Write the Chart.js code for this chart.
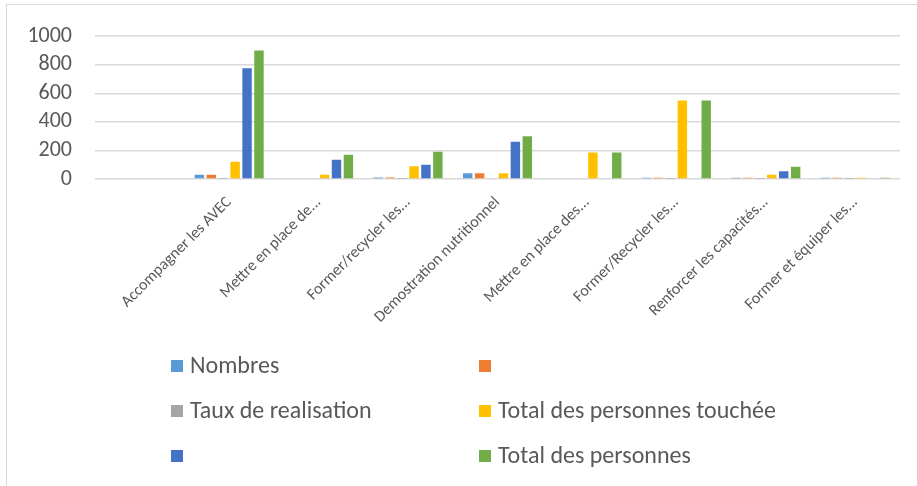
<!DOCTYPE html>
<html>
<head>
<meta charset="utf-8">
<script src="https://cdn.jsdelivr.net/npm/chart.js@4"></script>
<style>
    body { margin: 0; background: #fff; }
    #wrap { position: relative; width: 917px; height: 486px; overflow: hidden; }
    #frame { position: absolute; left: 6px; top: 4px; width: 940px; height: 520px;
             border-left: 1px solid #d9d9d9; border-top: 1px solid #d9d9d9; }
    canvas { position: absolute; left: 0; top: 0; }
</style>
</head>
<body>
<div id="wrap">
    <div id="frame"></div>
    <canvas id="barChart" width="917" height="486"></canvas>
</div>
<script>
// Categories (first one is an empty row in the source sheet)
const categories = [
    '',
    'Accompagner les AVEC',
    'Mettre en place de...',
    'Former/recycler les...',
    'Demostration nutritionnel',
    'Mettre en place des...',
    'Former/Recycler les...',
    'Renforcer les capacités...',
    'Former et équiper les...'
];

// Series values
const nombres          = [null, 30, 0, 10, 40, 0, 8, 8, 8];
const serieSansNom1    = [null, 30, 0, 10, 40, 0, 8, 8, 8];
const tauxRealisation  = [null, 1, 0, 1, 0, 0, 1, 1, 1];
const totalTouchee     = [null, 120, 30, 90, 40, 185, 550, 30, 8];
const serieSansNom2    = [null, 775, 135, 100, 260, 0, 0, 55, 0];
const totalPersonnes   = [null, 900, 170, 190, 300, 185, 550, 85, 8];

const yTicks = [0, 200, 400, 600, 800, 1000];

const TEXT = '#595959';
const FONT = 'Carlito, Lato, sans-serif';

// Legend drawn as a two-column grid, like the Excel one
const gridLegend = {
    id: 'gridLegend',
    afterDraw(chart) {
        const ctx = chart.ctx;
        const cols = [171, 479];
        const rows = [366, 411, 456];
        ctx.save();
        ctx.font = '24px ' + FONT;
        ctx.textBaseline = 'middle';
        chart.data.datasets.forEach((ds, i) => {
            const x = cols[i % 2];
            const y = rows[Math.floor(i / 2)];
            ctx.fillStyle = ds.backgroundColor;
            ctx.fillRect(x, y - 6, 12, 12);
            ctx.fillStyle = TEXT;
            ctx.fillText(ds.label, x + 19, y + 1);
        });
        ctx.restore();
    }
};

const ctx = document.getElementById('barChart').getContext('2d');
new Chart(ctx, {
    type: 'bar',
    data: {
        labels: categories,
        datasets: [
            { label: 'Nombres', data: nombres, backgroundColor: '#5B9BD5' },
            { label: '', data: serieSansNom1, backgroundColor: '#ED7D31' },
            { label: 'Taux de realisation', data: tauxRealisation, backgroundColor: '#A5A5A5' },
            { label: 'Total des personnes touchée', data: totalTouchee, backgroundColor: '#FFC000' },
            { label: '', data: serieSansNom2, backgroundColor: '#4472C4' },
            { label: 'Total des personnes', data: totalPersonnes, backgroundColor: '#70AD47' }
        ]
    },
    options: {
        responsive: false,
        animation: false,
        datasets: {
            bar: { categoryPercentage: 0.8, barPercentage: 0.79 }
        },
        layout: { padding: { top: 32, left: 0, right: 17, bottom: 0 } },
        plugins: {
            legend: { display: false },
            tooltip: { enabled: false }
        },
        scales: {
            x: {
                grid: { display: false },
                border: { display: false },
                ticks: {
                    autoSkip: false,
                    minRotation: 45,
                    maxRotation: 45,
                    padding: 6,
                    color: TEXT,
                    font: { family: FONT, size: 16 }
                },
                afterFit: (scale) => { scale.height = 307; }
            },
            y: {
                min: 0,
                max: 1000,
                afterBuildTicks: (scale) => { scale.ticks = yTicks.map(v => ({ value: v })); },
                grid: { color: '#d9d9d9', lineWidth: 1.5, drawTicks: false },
                border: { display: false },
                ticks: {
                    autoSkip: false,
                    padding: 23,
                    color: TEXT,
                    font: { family: FONT, size: 22 },
                    callback: (value) => String(value)
                },
                afterFit: (scale) => { scale.width = 95; }
            }
        }
    },
    plugins: [gridLegend]
});
</script>
</body>
</html>
